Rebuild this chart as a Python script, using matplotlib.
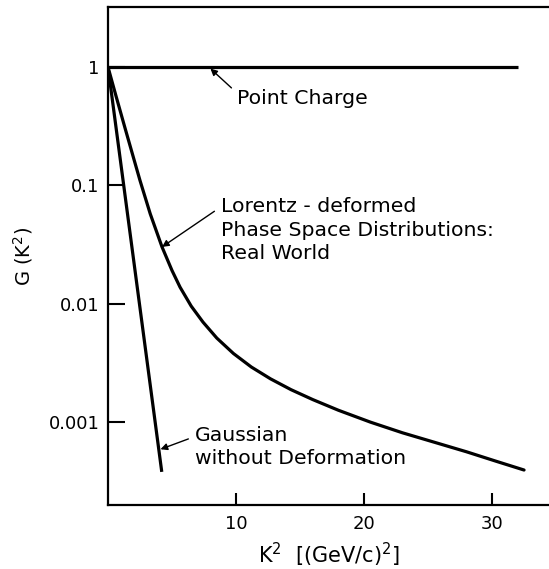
import numpy as np
import matplotlib
matplotlib.use("Agg")
import matplotlib.pyplot as plt

# valores
k2_point = [0.0, 32.0]
g_point = [1.0, 1.0]

k2_gauss = [0.0, 4.2]
g_gauss = [1.0, 3.8e-4]

k2_lorentz = [0.0, 0.6, 1.33, 2.0, 2.5, 3.3, 4.22, 5.0, 5.63, 6.5, 7.42, 8.5, 9.8, 11.2,
              12.7, 14.3, 16.0, 18.0, 20.5, 23.0, 25.5, 28.0, 30.3, 32.5]
g_lorentz = [1.0, 0.582, 0.305, 0.170, 0.110, 0.0575, 0.0302, 0.0191, 0.0138, 0.00955,
             0.0070, 0.00513, 0.0038, 0.00292, 0.00232, 0.00188, 0.00155, 0.00126,
             0.00100, 0.000813, 0.000676, 0.000562, 0.000468, 0.000394]

yticks = [0.001, 0.01, 0.1, 1]
ytick_labels = ["0.001", "0.01", "0.1", "1"]
xticks = [10, 20, 30]

plt.rcParams['font.family'] = ['DejaVu Sans']
fig = plt.figure(figsize=(5.49, 5.69), dpi=100)
ax = fig.add_axes([108/549, 64/569, 441/549, 498/569])

lw = 2.3
ax.plot(k2_point, g_point, color='black', lw=lw, solid_capstyle='butt')
ax.plot(k2_gauss, g_gauss, color='black', lw=lw, solid_capstyle='butt')
ax.plot(k2_lorentz, g_lorentz, color='black', lw=lw, solid_capstyle='round',
        solid_joinstyle='round')

ax.set_yscale('log')
ax.set_xlim(0, 34.45)
ax.set_ylim(10**-3.70, 10**0.507)
ax.set_yticks(yticks)
ax.set_yticklabels(ytick_labels)
ax.yaxis.set_minor_locator(matplotlib.ticker.NullLocator())
ax.set_xticks(xticks)
ax.set_xticklabels([str(t) for t in xticks])

ax.tick_params(axis='y', direction='in', length=12, width=1.5, pad=6, labelsize=13)
ax.tick_params(axis='x', direction='in', length=9, width=1.5, pad=7, labelsize=13)
for s in ['left', 'bottom', 'top']:
    ax.spines[s].set_linewidth(1.6)
ax.spines['right'].set_visible(False)

ax.set_xlabel(r'K$^2$  [(GeV/c)$^2$]', fontsize=15, labelpad=6)
ax.set_ylabel(r'G (K$^2$)', fontsize=14)
ax.yaxis.set_label_coords(-0.165, 0.5)

fs = 14.7
arrow = dict(arrowstyle='-|>', color='black', lw=1.0, mutation_scale=10)
ax.annotate('Point Charge', xy=(8.0, 0.97), xytext=(10.1, 0.547),
            fontsize=fs, va='center', ha='left',
            arrowprops=dict(arrow, shrinkA=3, shrinkB=0, relpos=(0, 0.75)))
ax.annotate('Lorentz - deformed\nPhase Space Distributions:\nReal World',
            xy=(4.22, 0.0302), xytext=(8.8, 0.0796),
            fontsize=fs, va='top', ha='left', linespacing=1.3,
            arrowprops=dict(arrow, shrinkA=3, shrinkB=0, relpos=(0, 0.85)))
ax.annotate('Gaussian\nwithout Deformation', xy=(4.1, 5.9e-4), xytext=(6.8, 9.2e-4),
            fontsize=fs, va='top', ha='left', linespacing=1.25,
            arrowprops=dict(arrow, shrinkA=3, shrinkB=0, relpos=(0, 0.76)))

fig.savefig('out.png', dpi=100)
